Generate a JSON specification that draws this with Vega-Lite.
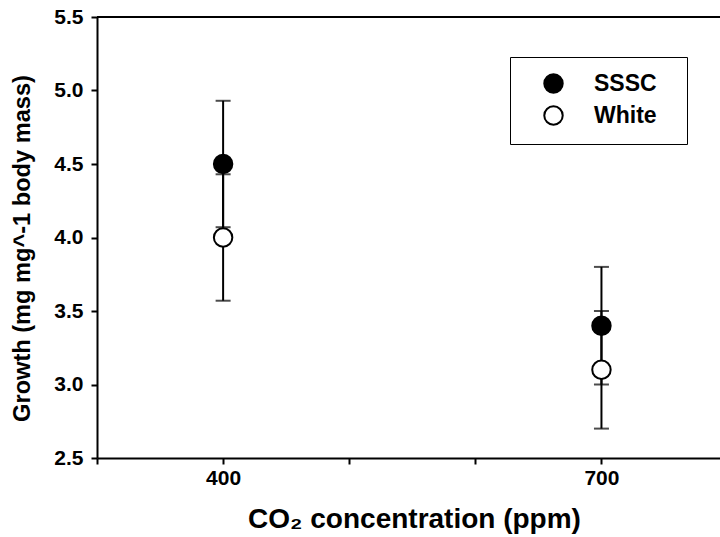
{
  "$schema": "https://vega.github.io/schema/vega-lite/v6.json",
  "width": 623,
  "height": 441,
  "autosize": {"type": "none"},
  "padding": {"left": 97, "top": 17, "right": 0, "bottom": 79},
  "background": "white",
  "config": {
    "view": {"stroke": null},
    "font": "Liberation Sans",
    "axis": {
      "grid": false,
      "domainColor": "black",
      "domainWidth": 2,
      "tickColor": "black",
      "tickWidth": 2,
      "tickSize": 6,
      "labelColor": "black",
      "labelFontWeight": "bold",
      "titleColor": "black",
      "titleFontWeight": "bold"
    }
  },
  "data": {
    "values": [
      {"group": "SSSC", "co2": 400, "growth": 4.5, "lo": 4.07, "hi": 4.93},
      {"group": "White", "co2": 400, "growth": 4.0, "lo": 3.57, "hi": 4.43},
      {"group": "SSSC", "co2": 700, "growth": 3.4, "lo": 3.0, "hi": 3.8},
      {"group": "White", "co2": 700, "growth": 3.1, "lo": 2.7, "hi": 3.5}
    ]
  },
  "encoding": {
    "x": {
      "field": "co2",
      "type": "quantitative",
      "scale": {"domain": [300, 794], "nice": false, "zero": false},
      "axis": {
        "values": [300, 400, 500, 600, 700],
        "labelExpr": "datum.value == 400 || datum.value == 700 ? datum.label : ''",
        "labelFontSize": 21,
        "labelFontWeight": "bold",
        "labelPadding": 3,
        "title": "CO₂ concentration (ppm)",
        "titleFontSize": 28,
        "titleX": 317,
        "titleY": 61,
        "titleBaseline": "middle",
        "titleAlign": "center"
      }
    }
  },
  "layer": [
    {
      "mark": {"type": "rule", "color": "black", "strokeWidth": 2},
      "encoding": {"x": null, "y": {"datum": 5.5, "type": "quantitative"}}
    },
    {
      "mark": {"type": "rule", "color": "black", "strokeWidth": 2},
      "encoding": {
        "y": {
          "field": "lo",
          "type": "quantitative",
          "scale": {"domain": [2.5, 5.5], "nice": false, "zero": false},
          "axis": {
            "values": [2.5, 3.0, 3.5, 4.0, 4.5, 5.0, 5.5],
            "format": ".1f",
            "labelFontSize": 21,
            "labelFontWeight": "bold",
            "labelPadding": 8,
            "title": "Growth (mg mg^-1 body mass)",
            "titleFontSize": 23.6,
            "titleX": -75,
            "titleY": 231,
            "titleBaseline": "middle",
            "titleAlign": "center",
            "titleAngle": -90
          }
        },
        "y2": {"field": "hi"}
      }
    },
    {
      "mark": {"type": "tick", "orient": "horizontal", "color": "black", "thickness": 2, "size": 15},
      "encoding": {"y": {"field": "lo", "type": "quantitative"}}
    },
    {
      "mark": {"type": "tick", "orient": "horizontal", "color": "black", "thickness": 2, "size": 15},
      "encoding": {"y": {"field": "hi", "type": "quantitative"}}
    },
    {
      "mark": {"type": "point", "shape": "circle", "filled": true, "size": 340, "stroke": "black", "strokeWidth": 2, "opacity": 1},
      "encoding": {
        "y": {"field": "growth", "type": "quantitative"},
        "fill": {
          "field": "group",
          "type": "nominal",
          "scale": {"domain": ["SSSC", "White"], "range": ["black", "white"]},
          "legend": {
            "orient": "none",
            "legendX": 413,
            "legendY": 40,
            "title": ".",
            "titleColor": "transparent",
            "titleOrient": "right",
            "titleFontSize": 2,
            "titlePadding": 14,
            "strokeColor": "black",
            "padding": 15,
            "symbolOffset": 17,
            "symbolType": "circle",
            "symbolSize": 340,
            "symbolStrokeColor": "black",
            "symbolStrokeWidth": 2,
            "labelFontSize": 23,
            "labelFontWeight": "bold",
            "labelColor": "black",
            "labelOffset": 29,
            "rowPadding": 5
          }
        }
      }
    }
  ]
}
